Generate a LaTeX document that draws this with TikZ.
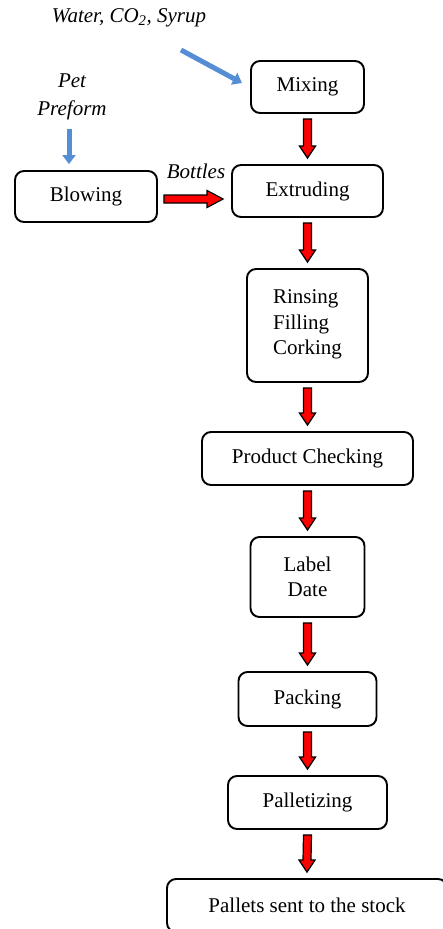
\documentclass[tikz,border=0pt]{standalone}
\usepackage{fontspec}
\setmainfont{Liberation Serif}
\usetikzlibrary{calc,arrows.meta}
\definecolor{arrowred}{RGB}{255,0,0}
\definecolor{flowblue}{RGB}{85,142,213}
\newcommand{\redarrowdown}[2]{%
  \coordinate (s) at ($(#1.south)+(0,5)$);
  \coordinate (e) at ($(#2.north)+(0,-6)$);
  \draw[redblock] ([shift={(-4,0)}]s) -- ([shift={(-4,-12)}]e) -- ([shift={(-8,-12)}]e) -- (e)
    -- ([shift={(8,-12)}]e) -- ([shift={(4,-12)}]e) -- ([shift={(4,0)}]s) -- cycle;}
\begin{document}
\begin{tikzpicture}[x=1pt,y=-1pt,
  box/.style={draw=black, line width=1.9pt, rounded corners=9pt, inner sep=0pt, align=center,
    font=\fontsize{21}{25.5}\selectfont},
  lbl/.style={font=\fontsize{21}{28}\selectfont\itshape, align=center, inner sep=0pt},
  bluearrow/.style={draw=flowblue, line width=5pt, -{Triangle[length=9pt,width=13pt]}},
  redblock/.style={fill=arrowred, draw=black, line width=1.2pt, line join=miter},
]
\clip (0,0) rectangle (443,929);
\useasboundingbox (0,0) rectangle (443,929);

% labels
\node[lbl] (water) at (129,18) {Water, CO\textsubscript{2}, Syrup};
\node[lbl] (pet) at (72,97) {Pet\\Preform};
\node[lbl] (bottles) at (196,171) {Bottles};

% boxes
\node[box, minimum width=113pt, minimum height=52pt] (mix) at (307.5,87) {Mixing};
\node[box, minimum width=142pt, minimum height=51pt] (blow) at (86,196.5) {Blowing};
\node[box, minimum width=151pt, minimum height=52pt] (ext) at (307.5,191) {Extruding};
\node[box, minimum width=121pt, minimum height=113pt, align=left] (rin) at (307.5,325.5) {Rinsing\\Filling\\Corking\\[-19pt]\mbox{}};
\node[box, minimum width=211pt, minimum height=53pt] (chk) at (307.5,458.5) {Product Checking};
\node[box, minimum width=114pt, minimum height=80pt] (lab) at (307.5,577) {Label\\Date};
\node[box, minimum width=138pt, minimum height=54pt] (pack) at (307.5,699) {Packing};
\node[box, minimum width=159pt, minimum height=53pt] (pal) at (307.5,802.5) {Palletizing};
\node[box, minimum width=280pt, minimum height=53pt] (stock) at (307,905.5) {Pallets sent to the stock};

% blue input arrows
\coordinate (wstart) at (181,50);
\coordinate (wend) at (242,83);
\draw[bluearrow] (wstart) -- (wend);
\coordinate (pstart) at (69,129);
\coordinate (pend) at ($(blow.north)+(-17,-6)$);
\draw[bluearrow] (pstart) -- (pstart |- pend);

% red flow arrows
\redarrowdown{mix}{ext}
\redarrowdown{ext}{rin}
\redarrowdown{rin}{chk}
\redarrowdown{chk}{lab}
\redarrowdown{lab}{pack}
\redarrowdown{pack}{pal}
\redarrowdown{pal}{stock}

% horizontal red arrow
\coordinate (hs) at ($(blow.east)+(6,2.5)$);
\coordinate (he) at ($(ext.west |- hs)+(-8,0)$);
\draw[redblock] ([shift={(0,-4)}]hs) -- ([shift={(-16,-4)}]he) -- ([shift={(-16,-8.5)}]he) -- (he)
  -- ([shift={(-16,8.5)}]he) -- ([shift={(-16,4)}]he) -- ([shift={(0,4)}]hs) -- cycle;
\end{tikzpicture}
\end{document}
